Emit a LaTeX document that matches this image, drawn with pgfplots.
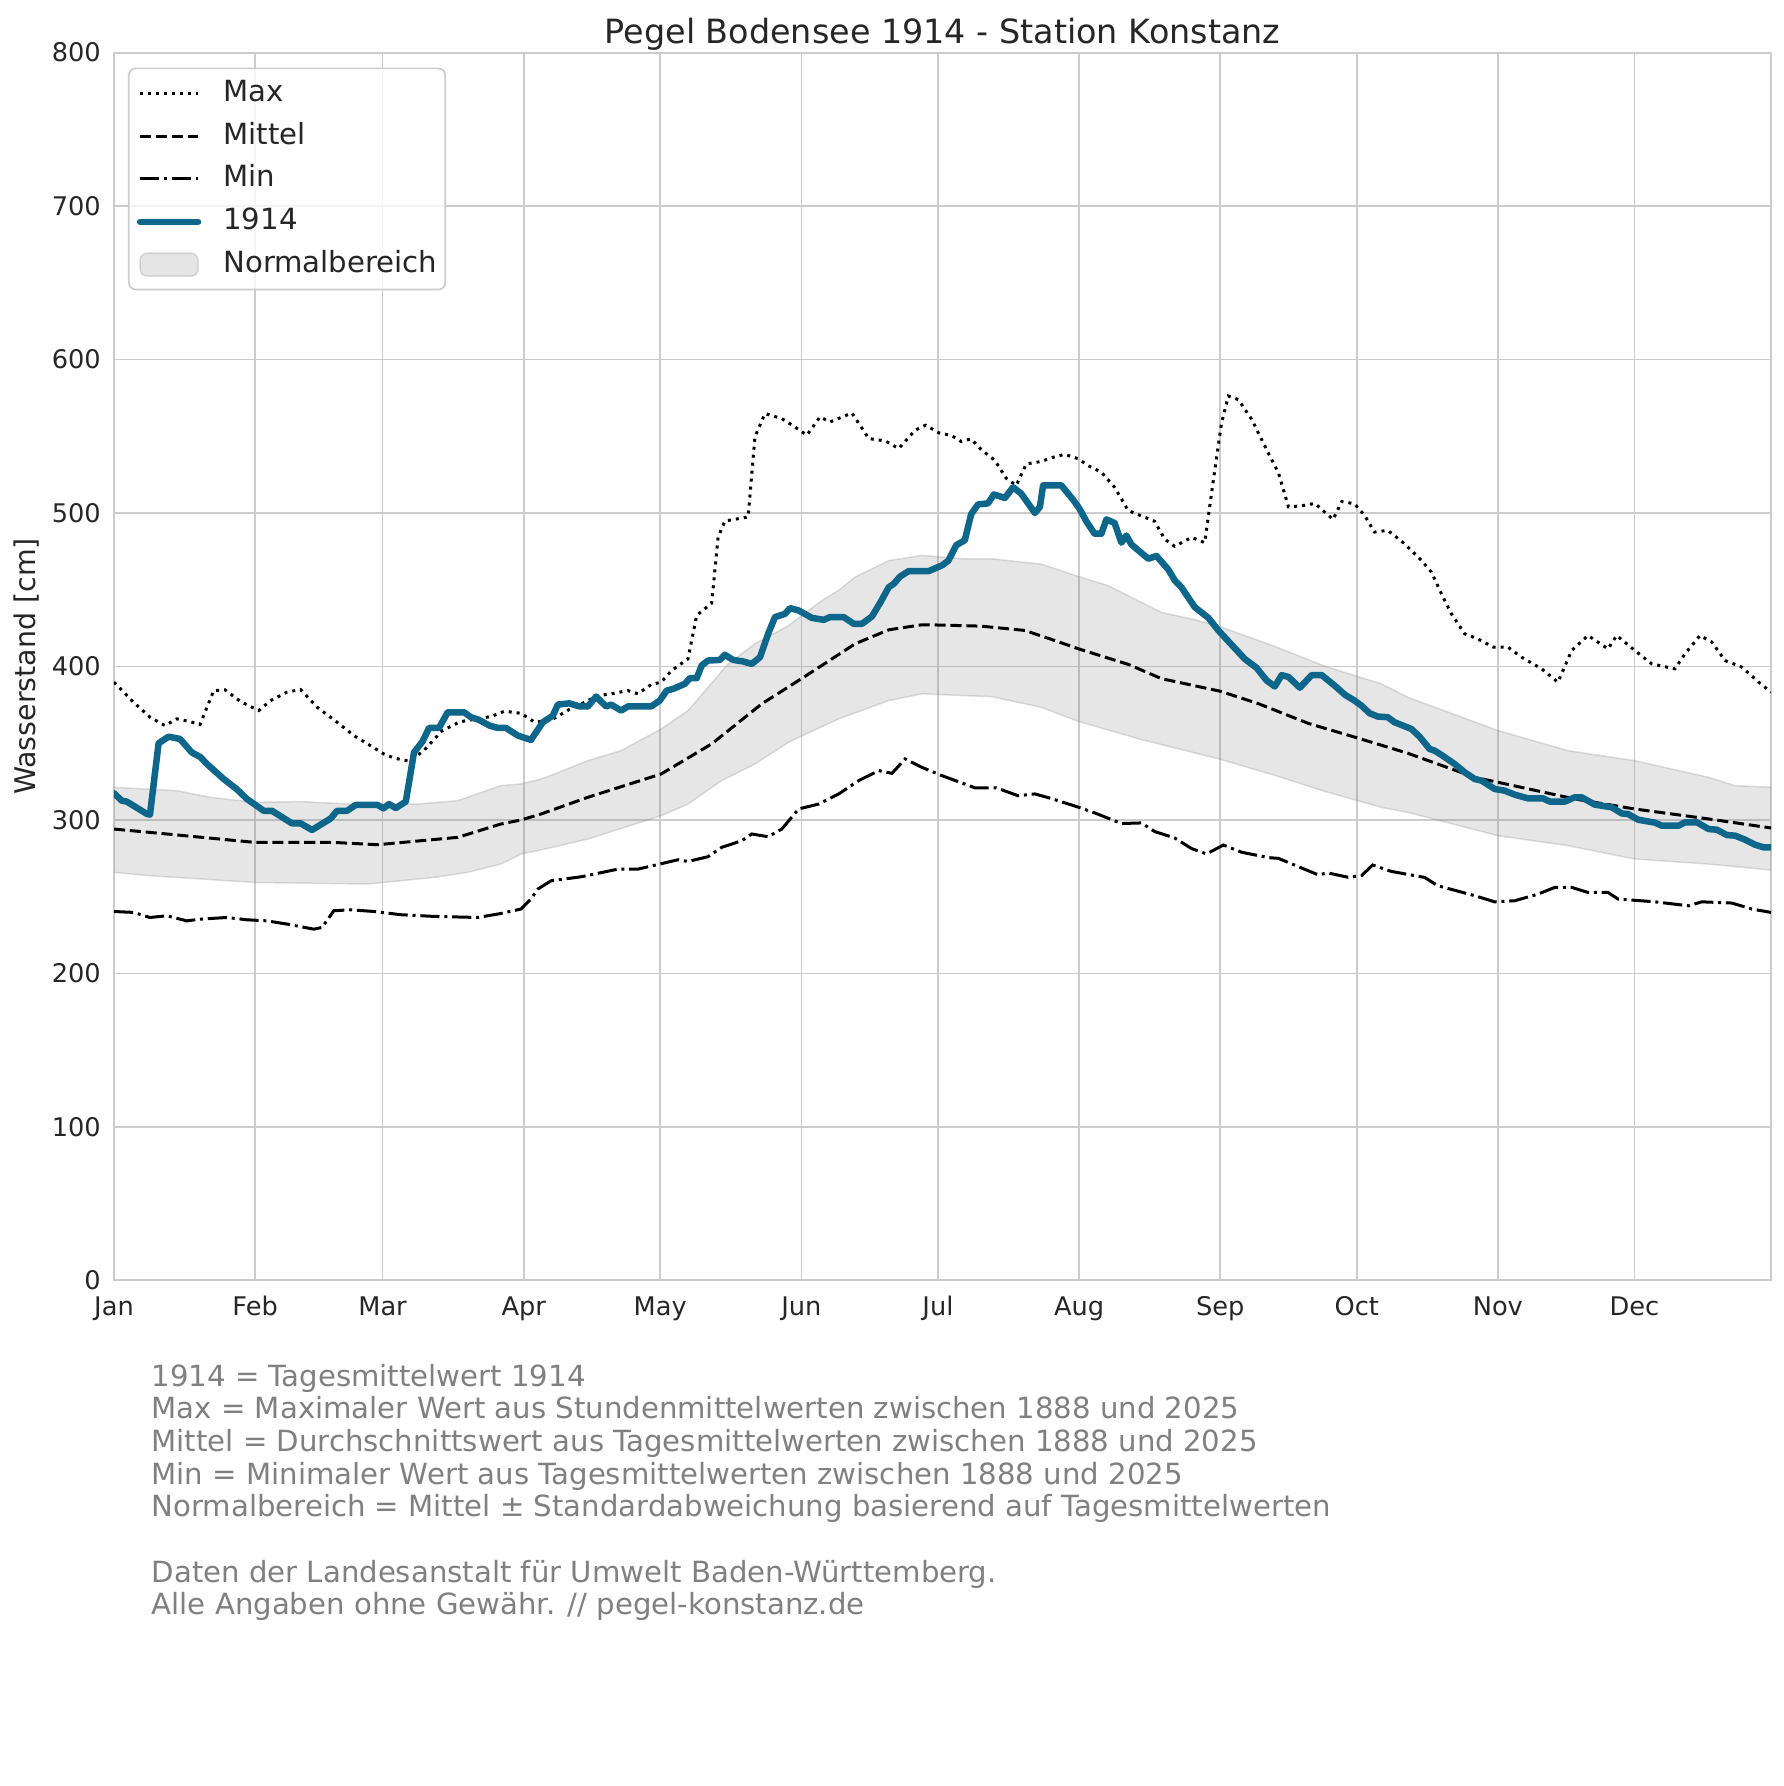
\documentclass[border=0pt]{standalone}
\usepackage{fontspec}
\setmainfont{DejaVu Sans}
\usepackage{pgfplots}
\pgfplotsset{compat=1.18}
\usepgfplotslibrary{fillbetween}
\definecolor{c1914}{HTML}{0E668B}
\definecolor{txt}{HTML}{262626}
\definecolor{gridc}{HTML}{CCCCCC}
\pgfplotsset{bandlegend/.style={legend image code/.code={\draw[##1] (0mm,-1.15mm) rectangle (5.8mm,1.15mm);}}}
\begin{document}
\begin{tikzpicture}
\begin{axis}[name=ax, scale only axis, width=165.7mm, height=122.8mm,
  xmin=0, xmax=364, ymin=0, ymax=800,
  xtick={0,31,59,90,120,151,181,212,243,273,304,334},
  xticklabels={Jan,Feb,Mar,Apr,May,Jun,Jul,Aug,Sep,Oct,Nov,Dec},
  ytick={0,100,...,800},
  /pgf/number format/assume math mode=true,
  major tick length=0pt, tick style={draw=none},
  grid=major, major grid style={draw=gridc, line width=0.17mm},
  axis line style={draw=gridc, line width=0.2mm},
  tick label style={text=txt, font=\fontsize{7.3}{8}\selectfont},
  xticklabel style={anchor=base, yshift=-3.5mm},
  yticklabel style={anchor=east, inner sep=0pt, xshift=-1.25mm},
  ylabel={Wasserstand [cm]},
  ylabel style={at={(-0.04746,0.5)}, anchor=base, text=txt, font=\fontsize{8.1}{9}\selectfont},
  title={Pegel Bodensee 1914 - Station Konstanz},
  every axis title/.style={at={(0.5,1)}, anchor=base, yshift=0.93mm, text=txt, font=\fontsize{9.5}{11}\selectfont},
  legend cell align=left,
  legend image code/.code={\draw[#1] (0mm,0mm) -- (5.8mm,0mm);},
  legend style={at={(0,1)}, anchor=north west, xshift=1.4mm, yshift=-1.5mm,
    draw=gridc, line width=0.17mm, rounded corners=0.7mm,
    fill=white, fill opacity=0.8, draw opacity=1, text opacity=1,
    font=\fontsize{8.3}{10}\selectfont, text=txt,
    inner xsep=0.8mm, inner ysep=1.1mm, row sep=1.48mm, column sep=2.2mm,
    nodes={inner sep=0pt, text height=2.2mm, text depth=0.6mm}},
]
% Normalbereich
\addplot[name path=up, draw=gray, draw opacity=0.25, line width=0.15mm, forget plot] table {
0 321.3
13.8 319.1
21.1 314.8
31 311.5
41 312
55.7 309.8
66.7 310.4
75.5 312.6
85 322.4
89.4 323.5
93.8 326.7
96.8 330
104.1 338.7
111.4 345.2
120.2 359.3
126.1 371.3
130.5 386.5
134.9 401.7
140.8 414.8
148.2 426.7
155.5 443
159.2 449.6
162.8 458.3
170.2 469
177.5 472.4
186.3 470.2
192.7 470.2
203.7 466.7
212 458.5
218.4 452.7
230.1 435.2
237.4 430.5
243 425.9
255 413.1
266 400.2
278.5 388.6
284.2 380
304 358.3
319.4 345.2
334 338.7
350.3 327.8
356.1 322.4
364 321.3
};
\addplot[name path=lo, draw=gray, draw opacity=0.25, line width=0.15mm, forget plot] table {
0 265.9
7.9 263.7
31 259.3
55.7 258.3
70.3 262.6
77.7 265.9
85 271.3
89.4 277.8
96.8 282.5
104.1 287.6
120.2 302.8
126.1 310.4
133.5 325.7
140.8 336.5
148.2 350.7
159.2 365.9
170.2 377.8
177.5 382.2
186.3 381.1
192.7 380.4
203.7 373.4
212 364.1
225.7 352.4
243 339.6
255 329.1
266 318.6
278.5 308.2
284.2 305
304 289.8
319.4 283.3
334 274.6
350.3 271.3
364 267.4
};
\addplot[fill=gray, fill opacity=0.2, draw=none, forget plot] fill between[of=up and lo];
% Max
\addplot[black, line width=0.3mm, dash pattern=on 0.3mm off 0.5mm] table {
0 389.8
4.3 376.7
7.9 367
11.2 361.5
13.8 365.9
16.7 364.1
18.9 362.2
21.9 384.3
24.4 384.8
27.8 377.2
31.8 371.3
34.4 377.8
38 383.3
41 385
44.6 373.5
49 363.7
52.7 355
55.7 349.6
59.3 343
61.5 340.4
64.8 338.3
68 345
72 358
76 364
80 366
82.8 367.4
85.8 370.9
89.4 369.5
92.4 363.7
96 365
100 372
103.4 376.7
106.3 381
109.2 382.2
112.9 384.3
115.1 382.2
118 388.3
120.2 389.8
122.5 397.4
126.1 405
128 433.3
131.3 441.3
132.7 484.3
134.2 494.8
139.3 497.4
140.8 549.6
143 564.8
146.7 561.5
149.6 556
152.2 550.7
155.1 562.6
157.3 559.3
162.1 565.2
165.8 548.5
169.4 547
172.4 542
176 554
178.3 557.2
181.2 552.2
183.9 550.6
186.1 546.6
188.3 548.3
190.5 541.3
193.5 534.3
196 522.6
198.2 518
200.4 532
203.7 533.6
206.6 536.6
208.8 538.2
211.8 535.4
214 530.8
216.9 526.6
219.8 516.8
222.8 501.6
225.7 498.1
228.6 494.6
230.8 483
233 478.3
236.7 484.1
239.6 480.7
241.5 521.4
243.3 558.7
244.8 576.2
247 573.9
249.9 561.1
253.6 538.9
255.8 526.1
258 504
260.9 504.7
263.8 506.3
266 500.5
267.8 495.8
269.7 507.5
272.5 506
274.7 498.5
276.9 487.6
279.8 488.7
283.5 480
287.2 469.1
289.4 461.5
291.6 447.4
293.8 434.3
296.7 421.3
299.6 418
303 412.6
306.2 412.6
309.2 406.1
313.6 398.5
317.2 389.8
320.2 410.4
323.8 420.2
328.2 411.5
330.1 420.2
334.1 410.4
337.8 401.7
342.9 398.5
345.1 408.3
348.4 420.2
351 415.9
353.9 403.9
357.6 399.6
361.3 389.8
364 383.3
};
\addlegendentry{Max}
% Mittel
\addplot[black, line width=0.3mm, dash pattern=on 1.11mm off 0.48mm] table {
0 294.1
11.6 290.9
31 285.4
48.3 285.4
57.9 283.9
75.5 288.7
85 297.4
89.4 300
93.8 303.9
104.1 314.8
120.2 330
131.3 349.6
142.3 375.7
151.5 393
162.8 414.8
170.2 423.9
177.5 427.2
181.7 427
190.5 426.3
200.1 423.5
205.9 417.7
212 411.4
222.8 401.4
230.1 392.1
243 383.9
251.4 375.8
262.4 362.9
273 353.6
284.2 343.5
298.9 327.8
304 324.6
320.9 313.7
334 307.2
350.3 300.7
364 294.8
};
\addlegendentry{Mittel}
% Min
\addplot[black, line width=0.3mm, dash pattern=on 1.92mm off 0.48mm on 0.3mm off 0.48mm] table {
0 240.4
4.3 239.8
7.9 236.5
11.6 237.6
16 234.3
18.9 235.4
24.8 236.5
29.2 235
33.6 234.3
38 232.2
43.9 228.9
45.7 230
48.3 240.9
52 241.5
57.1 240.4
63 238.3
70.3 237.2
79.9 236.5
85 239.1
89.4 242
91.6 248.5
93.1 255
96 260.4
102.6 263
110.7 268
115.1 268
123.9 274.1
126.1 273
130.5 276.1
133.5 282.2
137.9 286.5
140.1 290.9
143.7 289.1
146.7 294.1
150.4 307.2
154.8 310.4
159.2 317
163.6 325.7
168 332.2
170.9 330.4
173.8 339.8
177.5 334.3
181.7 329.1
189.1 321
193.8 321
198.6 315.8
202.3 317
205.9 314
212 308.2
215.4 304.7
221.3 297.7
225.7 298.1
228.6 292.5
233 288.3
236.7 281.4
240 277.9
243.7 283.7
247.7 279
253.6 275.5
255.8 275
260.1 269.7
264.5 264.3
266.7 265.5
271.1 262.7
274.1 263.9
276.5 270.7
280.6 266.5
287.9 262.6
290.8 257.2
298.9 250.7
303.3 246.7
307.7 247.4
312.8 251.7
316.5 256.1
320.2 256.1
323.8 252.8
328.2 252.8
330.4 248.5
338.5 246.7
345.9 244.1
348.8 246.7
355.4 245.9
359.8 242
364 239.8
};
\addlegendentry{Min}
% 1914
\addplot[c1914, line width=0.65mm, line cap=round, line join=round] table {
0 317.4
1.7 312.6
2.8 312
5 308
7.2 304
7.9 303.5
9.8 350
12 354.3
14.5 352.8
17.1 344
19 341
20.4 336.5
24.1 326.7
27 320
29.2 313.7
32.9 306
34.7 306
39.1 297.8
41 297.8
43.5 293.5
47.6 301
49 306
51.2 306
53.1 309.8
57.9 309.8
59.2 307.6
60.4 310.4
61.9 307.8
64.1 312
65.9 344
67.8 351.3
69.2 360
71.4 360
73.3 370.2
76.9 370.2
78.4 367
80.2 365.2
82.5 361.5
84.3 360
86.1 360
88.7 355
91.6 352.2
94.2 363.7
96.4 368
97.5 375.2
100 376
102.3 374
104.1 374
105.9 380.4
108.1 374
109.2 375.2
111.4 371.3
112.9 374
118 374
119.9 377.8
121.4 384.3
122.8 385.4
125.4 388.7
126.5 392.4
128 392.4
129.1 400.7
130.5 403.9
133.1 404.3
134.2 407.6
136 404.3
138.2 403.3
140.1 401.7
141.9 406
143.7 421.3
145.2 432.2
147.4 434.3
148.5 438
150.4 436.5
153.3 431.7
155.9 430.4
157.3 432.2
160.3 432.2
162.5 427.8
164.3 427.8
166.5 432.6
168.4 442
170.2 451.7
171.3 453.9
172.7 458.7
174.6 462.2
179 462.2
181.9 465.9
183.3 469
185 479
186.9 482.3
188.3 499.3
189.8 505.6
192 506.3
193.3 512.1
195.7 509.8
197.5 516.8
199.3 512.6
202.3 500
203.4 504
204.1 518
208.1 518
210.7 508.6
212.1 502.8
213.6 494.6
215.4 486.5
216.9 486.5
218 495.8
219.8 493.5
221.3 480.7
222.4 485.3
223.5 479.5
227.2 470.2
229 472
231.6 463.2
233 456.2
234.5 451.5
237.4 438.7
240.4 431.7
242.6 423.5
245.5 414.2
248.4 404.9
251 399.1
253.2 390.9
255 387
256.5 394.4
258 393.2
260.5 386.2
263.1 394.4
265.3 394.4
268.2 387.4
270.4 381.6
272.5 377.8
274 374.6
275.8 369.6
277.6 367.4
279.8 367
281.3 363.7
285 359.3
286.8 354.3
289 346.3
290.1 345.2
291.6 342.4
294.5 336.5
296.7 331.1
298.9 326.7
300.4 325.7
303.3 320.2
305.5 319.1
307.7 316.5
310.6 314.1
313.9 314.1
315.4 312
318.7 312
320.9 314.8
322.4 314.8
325.3 310
329 308.3
331.2 304.3
332.6 303.9
334.8 300.2
338.5 298.3
340 296.3
343.7 296.3
345.1 298.5
347.7 298.5
350.3 294.1
352.1 293.7
354.3 290.2
356.1 289.8
358.3 287.2
360.5 283.9
362.4 282.2
364 282.2
};
\addlegendentry{1914}
\addlegendimage{bandlegend, fill=gray, fill opacity=0.2, draw=gray, draw opacity=0.25, line width=0.15mm}
\addlegendentry{Normalbereich}
\end{axis}
\path (ax.south west) ++(-11.4mm,-50.55mm) rectangle ++(178.4mm,178.6mm);
\node[anchor=north west, align=left, inner sep=0pt, text=gray, font=\fontsize{8.3}{9.28}\selectfont]
  at ([xshift=3.7mm,yshift=-8.3mm]ax.south west)
  {1914 = Tagesmittelwert 1914\\
   Max = Maximaler Wert aus Stundenmittelwerten zwischen 1888 und 2025\\
   Mittel = Durchschnittswert aus Tagesmittelwerten zwischen 1888 und 2025\\
   Min = Minimaler Wert aus Tagesmittelwerten zwischen 1888 und 2025\\
   Normalbereich = Mittel ± Standardabweichung basierend auf Tagesmittelwerten\\[9.28pt]
   Daten der Landesanstalt für Umwelt Baden-Württemberg.\\
   Alle Angaben ohne Gewähr. // pegel-konstanz.de};
\end{tikzpicture}
\end{document}
